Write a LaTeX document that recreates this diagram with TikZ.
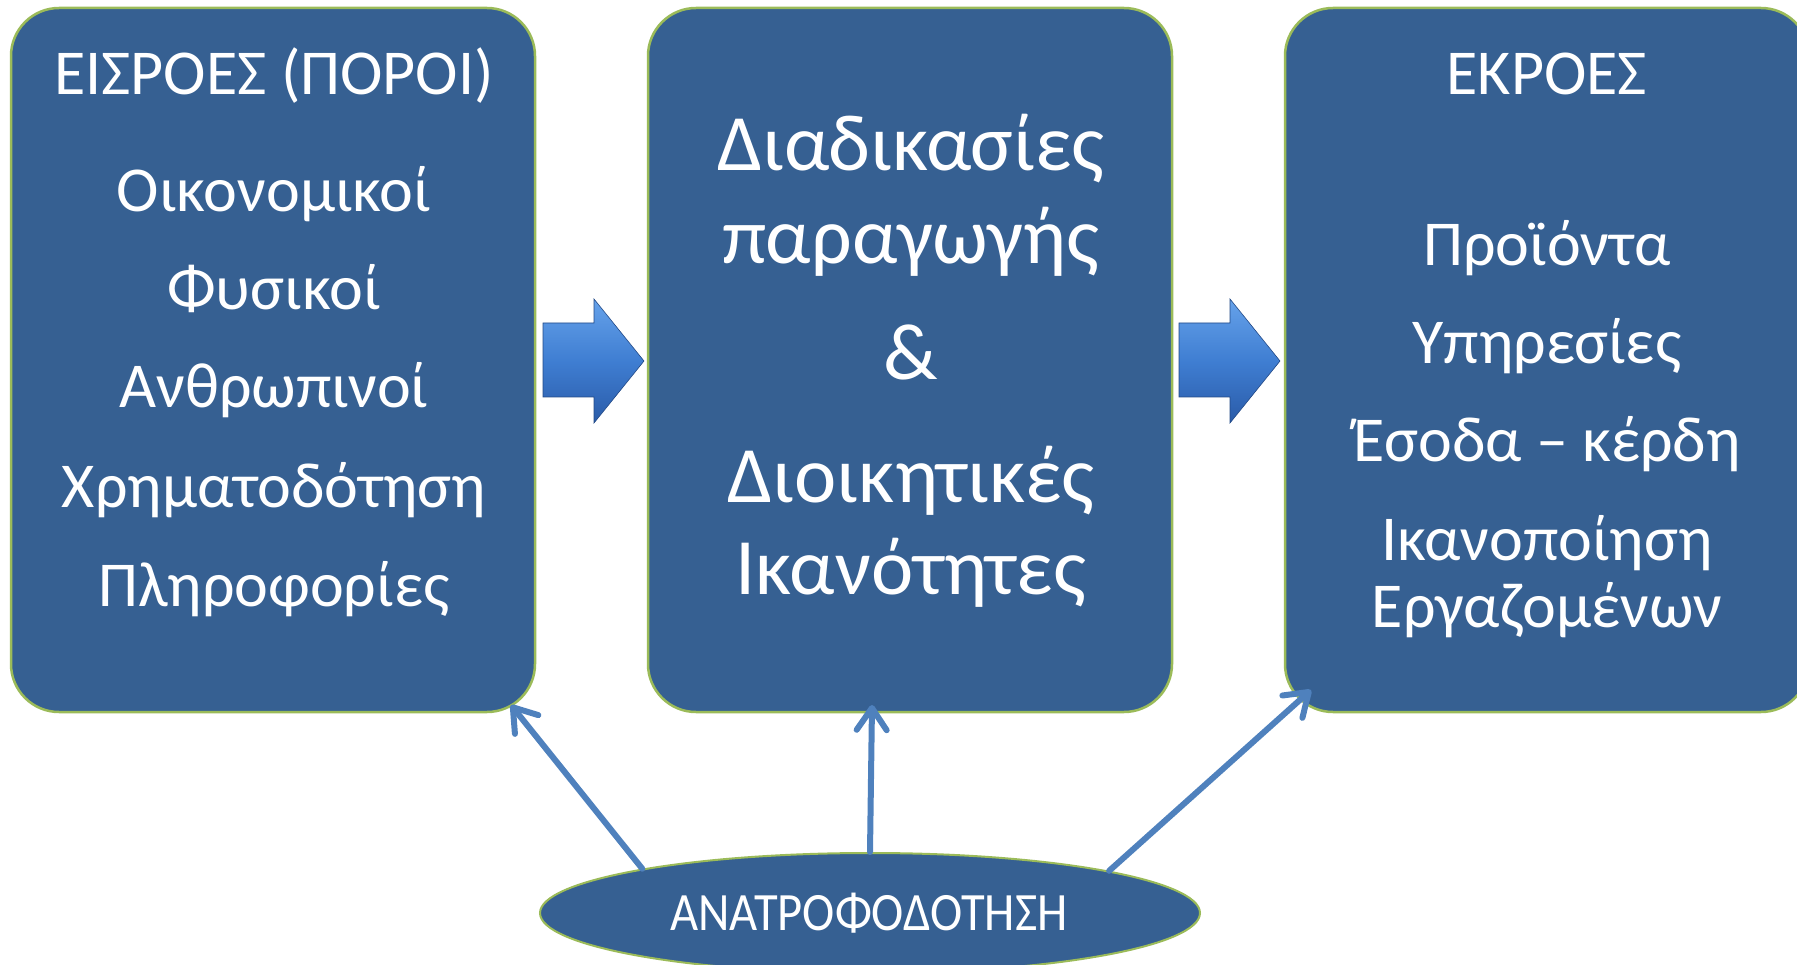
\documentclass[tikz,border=0pt]{standalone}
\usepackage{fontspec}
\usepackage{graphicx}
\setmainfont{Carlito}
\usetikzlibrary{arrows.meta,shapes.geometric}
\definecolor{boxblue}{HTML}{366092}
\definecolor{boxedge}{HTML}{9BBB59}
\definecolor{linkblue}{HTML}{4F81BD}
\definecolor{arrtop}{HTML}{66A2EA}
\definecolor{arrmid}{HTML}{3F7ED2}
\definecolor{arrbot}{HTML}{2A5BA8}
\tikzset{
  panel/.style={draw=boxedge, line width=2.5pt, fill=boxblue, rounded corners=48pt,
    minimum width=524pt, minimum height=704pt, inner sep=0pt},
  txt/.style={text=white, anchor=base, inner sep=0pt, font=\fontsize{64}{76}\selectfont},
  bigtxt/.style={text=white, anchor=base, inner sep=0pt, font=\fontsize{80}{96}\selectfont},
  link/.style={draw=linkblue, line width=6pt, line cap=round,
    -{Straight Barb[length=22pt,width=30pt,round]}},
  blockarrow/.style={top color=arrtop, bottom color=arrbot, middle color=arrmid, draw=arrbot!80!black, line width=0.6pt},
}
\begin{document}
\begin{tikzpicture}[x=1pt,y=-1pt]
\useasboundingbox (0,0) rectangle (1797,965);
\clip (0,0) rectangle (1797,965);

% panels
\node[panel] (inputs) at (273,360) {};
\node[panel] (process) at (910,360) {};
\node[panel] (outputs) at (1547,360) {};

% left panel text
\node[txt] (t1a) at (274,95) {ΕΙΣΡΟΕΣ (ΠΟΡΟΙ)};
\node[txt] (t1b) at (274,212) {Οικονομικοί};
\node[txt] (t1c) at (274,310) {Φυσικοί};
\node[txt] (t1d) at (274,408) {Ανθρωπινοί};
\node[txt] (t1e) at (274,507) {Χρηματοδότηση};
\node[txt] (t1f) at (274,606) {Πληροφορίες};

% middle panel text
\node[bigtxt] (t2a) at (911,171) {Διαδικασίες};
\node[bigtxt] (t2b) at (911,264) {παραγωγής};
\node[bigtxt] (t2c) at (911,380) {\&};
\node[bigtxt] (t2d) at (911,502) {Διοικητικές};
\node[bigtxt] (t2e) at (911,594) {Ικανότητες};

% right panel text
\node[txt] (t3a) at (1547,95) {ΕΚΡΟΕΣ};
\node[txt] (t3b) at (1547,266) {Προϊόντα};
\node[txt] (t3c) at (1547,364) {Υπηρεσίες};
\node[txt] (t3d) at (1547,461) {Έσοδα – κέρδη};
\node[txt] (t3e) at (1547,560) {Ικανοποίηση};
\node[txt] (t3f) at (1547,627) {Εργαζομένων};

% block arrows
\foreach \dx in {0,636}{
  \draw[blockarrow] (543+\dx,323) -- (594+\dx,323) -- (594+\dx,299) -- (644+\dx,361)
    -- (594+\dx,423) -- (594+\dx,397) -- (543+\dx,397) -- cycle;
}

% feedback ellipse
\node[ellipse, draw=boxedge, line width=2pt, fill=boxblue, minimum width=660pt,
  minimum height=120pt, inner sep=0pt] (fb) at (870,913) {};
\node[text=white, anchor=base, inner sep=0pt, font=\fontsize{54}{62}\selectfont]
  (fbt) at (869,930) {\scalebox{0.9}[1]{ΑΝΑΤΡΟΦΟΔΟΤΗΣΗ}};

% feedback connectors
\coordinate (tip1) at (511,705);
\coordinate (tip2) at (872,705);
\coordinate (tip3) at (1311,690);
\draw[link] (fb.169.6) -- (tip1);
\draw[link] (fb.90) -- (tip2);
\draw[link] (fb.10.4) -- (tip3);
\end{tikzpicture}
\end{document}
